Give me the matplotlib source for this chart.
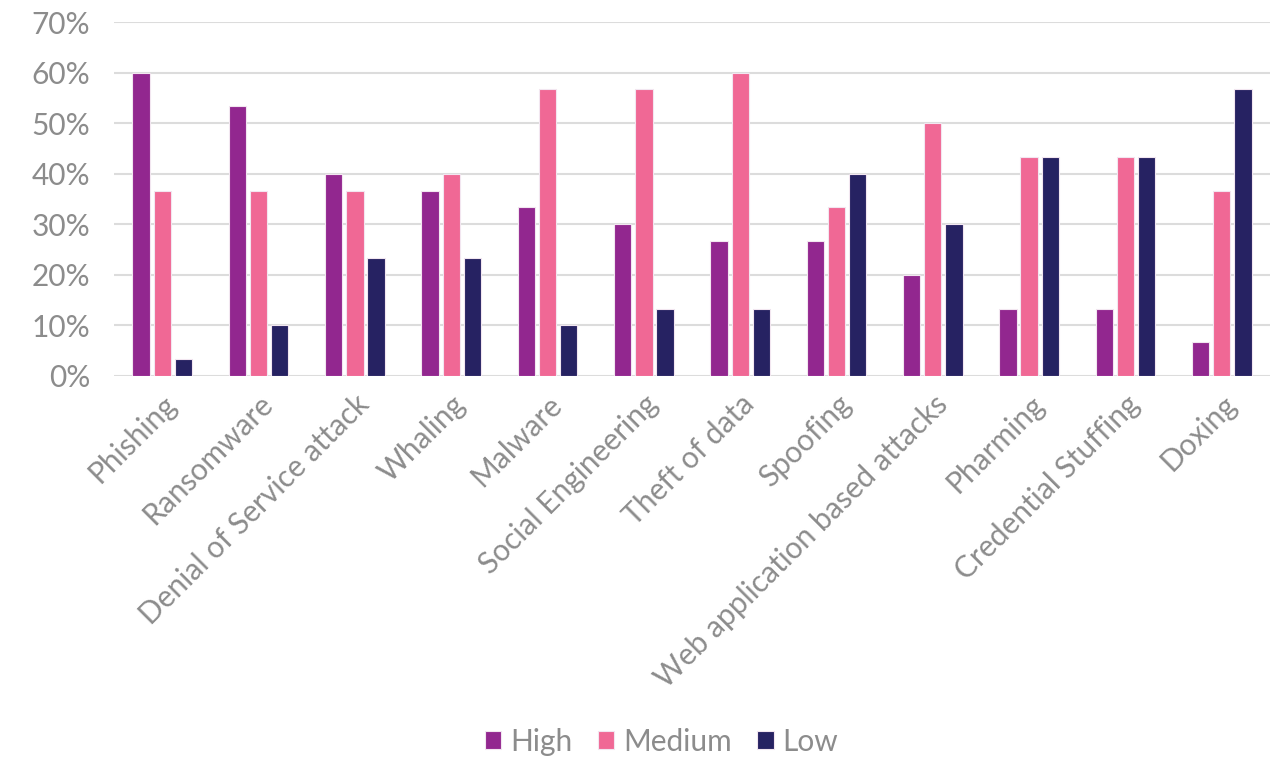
import numpy as np
import matplotlib.pyplot as plt
from matplotlib.ticker import FuncFormatter

categories = ['Phishing', 'Ransomware', 'Denial of Service attack', 'Whaling', 'Malware',
              'Social Engineering', 'Theft of data', 'Spoofing', 'Web application based attacks',
              'Pharming', 'Credential Stuffing', 'Doxing']
high = [60.0, 53.33, 40.0, 36.67, 33.33, 30.0, 26.67, 26.67, 20.0, 13.33, 13.33, 6.67]
medium = [36.67, 36.67, 36.67, 40.0, 56.67, 56.67, 60.0, 33.33, 50.0, 43.33, 43.33, 36.67]
low = [3.33, 10.0, 23.33, 23.33, 10.0, 13.33, 13.33, 40.0, 30.0, 43.33, 43.33, 56.67]

series = [('High', high, '#92278f'), ('Medium', medium, '#f06895'), ('Low', low, '#262262')]

plt.rcParams['font.family'] = ['Lato', 'DejaVu Sans']
grey = '#8c8c8c'

fig = plt.figure(figsize=(12.77, 7.6), dpi=100)
ax = fig.add_axes([0.0893, 0.5053, 0.9052, 0.4657])

x = np.arange(len(categories))
width = 0.18
step = 0.22
for i, (name, vals, color) in enumerate(series):
    ax.bar(x + (i - 1) * step, vals, width, color=color, label=name,
           edgecolor='#f2e6f0', linewidth=0.8, zorder=3)

ax.set_xlim(-0.5, len(categories) - 0.5)
ax.set_ylim(0, 70)
ax.set_yticks(range(0, 71, 10))
ax.yaxis.set_major_formatter(FuncFormatter(lambda v, p: f'{int(v)}%'))
ax.grid(axis='y', color='#dcdcdc', linewidth=1.5, zorder=0)
for s in ax.spines.values():
    s.set_visible(False)
ax.tick_params(axis='both', length=0, labelsize=21.5, labelcolor=grey)
ax.tick_params(axis='y', pad=17)
ax.tick_params(axis='x', pad=10)
ax.set_xticks(x)
ax.set_xticklabels(categories, rotation=45, ha='right', rotation_mode='anchor')

fig.legend(loc='lower center', bbox_to_anchor=(0.518, -0.03), ncol=3, frameon=False,
           fontsize=21.5, labelcolor=grey, handlelength=0.55, handleheight=0.55,
           handletextpad=0.3, columnspacing=0.85)

fig.savefig('out.png', dpi=100)
